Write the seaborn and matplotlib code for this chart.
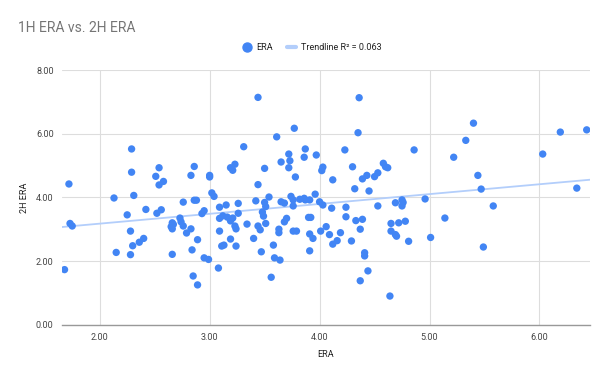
import matplotlib
matplotlib.use("Agg")
import matplotlib.pyplot as plt
from matplotlib.lines import Line2D
import seaborn as sns
import pandas as pd

era_1h = [1.68, 1.72, 1.73, 1.75, 2.13, 2.15, 2.25, 2.28, 2.28, 2.29, 2.29, 2.30, 2.31, 2.36, 2.40, 2.42,
          2.51, 2.52, 2.54, 2.54, 2.56, 2.58, 2.66, 2.67, 2.65, 2.66, 2.66, 2.73, 2.74, 2.76, 2.76, 2.79,
          2.83, 2.83, 2.84, 2.85, 2.86, 2.86, 2.88, 2.89, 2.89, 2.93, 2.95, 2.95, 2.99, 3.00, 3.00, 3.02,
          3.04, 3.08, 3.09, 3.09, 3.09, 3.11, 3.13, 3.15, 3.12, 3.16, 3.19, 3.21, 3.23, 3.24, 3.26, 3.19,
          3.21, 3.23, 3.19, 3.24, 3.26, 3.31, 3.34, 3.40, 3.42, 3.44, 3.44, 3.44, 3.46, 3.47, 3.48, 3.49,
          3.51, 3.50, 3.51, 3.50, 3.54, 3.56, 3.58, 3.59, 3.61, 3.63, 3.63, 3.64, 3.65, 3.65, 3.68, 3.68,
          3.70, 3.72, 3.72, 3.73, 3.74, 3.76, 3.76, 3.76, 3.77, 3.78, 3.79, 3.82, 3.86, 3.86, 3.87, 3.87,
          3.90, 3.92, 3.91, 3.91, 3.91, 3.94, 3.96, 3.97, 4.00, 4.03, 4.01, 4.06, 4.09, 4.03, 4.02, 4.11,
          4.12, 4.12, 4.16, 4.19, 4.23, 4.24, 4.24, 4.29, 4.30, 4.32, 4.33, 4.35, 4.36, 4.37, 4.37, 4.39,
          4.39, 4.41, 4.41, 4.43, 4.44, 4.45, 4.50, 4.53, 4.53, 4.58, 4.60, 4.62, 4.64, 4.65, 4.65, 4.69,
          4.69, 4.70, 4.72, 4.75, 4.76, 4.75, 4.78, 4.81, 4.86, 4.96, 5.01, 5.14, 5.22, 5.33, 5.40, 5.44,
          5.47, 5.49, 5.58, 6.03, 6.19, 6.34, 6.43]
era_2h = [1.73, 4.42, 3.18, 3.10, 3.98, 2.27, 3.45, 2.20, 2.94, 5.52, 4.79, 2.48, 4.06, 2.59, 2.71, 3.62,
          4.66, 3.50, 4.93, 4.39, 3.61, 4.50, 3.20, 3.15, 3.08, 3.01, 2.21, 3.35, 3.23, 3.85, 3.10, 2.88,
          3.01, 4.69, 2.35, 1.53, 4.97, 3.91, 3.91, 1.25, 2.67, 3.49, 3.58, 2.10, 2.05, 4.69, 4.64, 4.14,
          4.03, 1.78, 3.34, 2.94, 3.69, 2.47, 2.50, 3.76, 3.42, 3.38, 3.26, 3.35, 3.10, 3.01, 3.50, 4.93,
          4.85, 5.04, 2.69, 2.47, 3.81, 5.59, 3.16, 2.71, 3.89, 4.40, 7.14, 3.10, 2.98, 2.29, 3.54, 3.41,
          3.18, 3.84, 3.71, 4.91, 4.01, 1.49, 2.50, 2.10, 5.90, 3.00, 2.89, 2.03, 5.11, 3.86, 3.82, 3.23,
          3.34, 4.93, 5.36, 5.15, 4.03, 3.92, 3.73, 2.94, 6.17, 4.64, 2.94, 3.94, 5.26, 3.97, 5.52, 3.92,
          3.37, 3.37, 2.32, 3.92, 2.85, 2.71, 4.10, 5.33, 3.86, 3.76, 2.94, 3.08, 2.83, 4.95, 4.84, 3.66,
          4.55, 2.53, 2.64, 2.89, 5.49, 3.69, 3.39, 2.63, 4.96, 4.27, 3.27, 6.03, 7.13, 3.00, 1.38, 4.58,
          3.31, 2.26, 2.16, 4.69, 1.69, 4.20, 4.65, 4.77, 3.73, 5.07, 4.96, 4.93, 0.90, 3.18, 2.94, 3.83,
          2.83, 2.78, 3.20, 3.92, 3.84, 3.73, 3.25, 2.62, 5.49, 3.95, 2.74, 3.35, 5.26, 5.79, 6.33, 4.69,
          4.26, 2.44, 3.73, 5.36, 6.05, 4.29, 6.12]

x_ticks = [2, 3, 4, 5, 6]
y_ticks = [0, 2, 4, 6, 8]
title = "1H ERA vs. 2H ERA"
r2_label = "Trendline R\u00b2 = 0.063"

df = pd.DataFrame({"ERA": era_1h, "2H ERA": era_2h})

sns.set_theme(style="white")
plt.rcParams["font.family"] = ["Roboto", "DejaVu Sans"]

fig = plt.figure(figsize=(6.1, 3.77), dpi=100)
ax = fig.add_axes([62 / 610, 1 - 324.7 / 377, (590 - 62) / 610, (324.7 - 70) / 377])

ax.set_xlim(1.657, 6.46)
ax.set_ylim(0, 8)

point_color = "#4285F4"
trend_color = "#B3CEFB"

sns.regplot(data=df, x="ERA", y="2H ERA", ax=ax, scatter=False, ci=None, truncate=False,
            line_kws={"color": trend_color, "linewidth": 1.3, "zorder": 2})
sns.scatterplot(data=df, x="ERA", y="2H ERA", ax=ax, color=point_color, s=28,
                edgecolor="none", linewidth=0, zorder=3, legend=False)

ax.set_xlim(1.657, 6.46)
ax.set_ylim(0, 8)
ax.set_xticks(x_ticks)
ax.set_yticks(y_ticks)
ax.set_xticklabels([f"{v:.2f}" for v in x_ticks])
ax.set_yticklabels([f"{v:.2f}" for v in y_ticks])
ax.tick_params(axis="both", length=0, labelsize=6.5, colors="#444444", pad=6)
ax.grid(True, color="#DDDDDD", linewidth=0.8)
ax.set_axisbelow(True)
for side in ["top", "right", "left"]:
    ax.spines[side].set_visible(False)
ax.spines["bottom"].set_color("#999999")
ax.spines["bottom"].set_linewidth(1.0)

ax.set_xlabel("ERA", fontsize=6.5, color="#222222", labelpad=6)
ax.set_ylabel("2H ERA", fontsize=6.5, color="#222222", labelpad=5)

fig.text(18 / 610, 1 - 28 / 377, title, fontsize=10, color="#757575", va="center", ha="left")

handles = [
    Line2D([], [], marker="o", linestyle="none", color=point_color, markersize=6.5),
    Line2D([], [], color=trend_color, linewidth=3),
]
fig.legend(handles, ["ERA", r2_label], loc="center", bbox_to_anchor=(312 / 610, 1 - 48 / 377),
           ncol=2, frameon=False, fontsize=6.5, handlelength=1.0, handletextpad=0.6,
           columnspacing=1.5, labelcolor="#222222")

fig.savefig("out.png", dpi=100)
